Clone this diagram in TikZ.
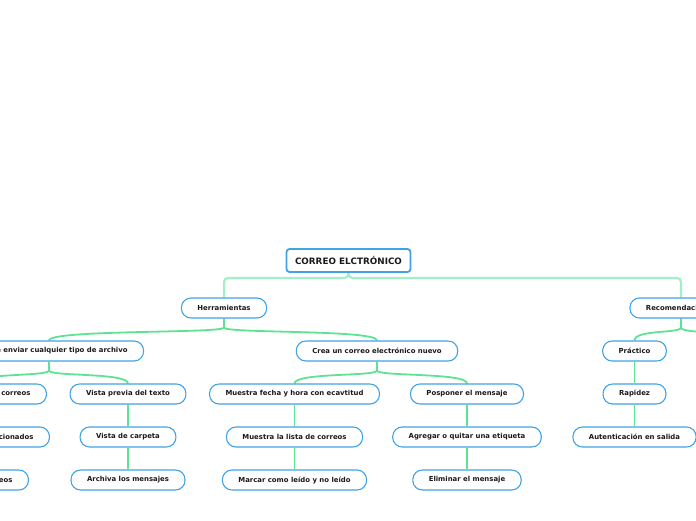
\documentclass[tikz,border=0pt]{standalone}
\usepackage{fontspec}
\setmainfont{DejaVu Sans}
\usetikzlibrary{backgrounds}
\definecolor{nodeblue}{HTML}{3FA3E6}
\definecolor{conngreen}{HTML}{5EE393}
\definecolor{rootgreen}{HTML}{A3F0C6}
\definecolor{txt}{HTML}{1A1A1A}
\tikzset{
  topic/.style={draw=nodeblue, line width=1.1pt, rounded corners=9.5pt, fill=white,
    minimum height=20pt, inner xsep=16pt, inner ysep=0pt, text=txt,
    font=\fontsize{6.9}{8}\selectfont\bfseries},
  roottopic/.style={draw=nodeblue, line width=1.8pt, rounded corners=3pt, fill=white,
    minimum height=23pt, inner xsep=8.5pt, inner ysep=0pt, text=txt,
    font=\fontsize{8.8}{10}\selectfont\bfseries},
  conn/.style={draw=conngreen, line width=1.8pt},
  rootconn/.style={draw=rootgreen, line width=2.2pt, rounded corners=4pt},
}
\begin{document}
\begin{tikzpicture}[x=1pt,y=-1pt]
\useasboundingbox (0,0) rectangle (696,520);

% nodes
\node[roottopic] (root) at (348.5,260.5) {CORREO ELCTRÓNICO};
\node[topic] (herr) at (224,308) {Herramientas};
\node[topic] (reco) at (681,308) {Recomendaciones};

\node[topic] (perm) at (49,351) {Permite enviar cualquier tipo de archivo};
\node[topic] (crea) at (377,351) {Crea un correo electrónico nuevo};

\node[topic, anchor=east] (pc1) at (47,394) {Organizar y clasificar correos};
\node[topic, anchor=east] (pc2) at (50,437) {Mover los correos seleccionados};
\node[topic, anchor=east] (pc3) at (29,480) {Destacar los correos};

\node[topic] (vp1) at (128,394) {Vista previa del texto};
\node[topic] (vp2) at (128,437) {Vista de carpeta};
\node[topic] (vp3) at (128,480) {Archiva los mensajes};

\node[topic] (mf1) at (294.5,394) {Muestra fecha y hora con ecavtitud};
\node[topic] (mf2) at (294.5,437) {Muestra la lista de correos};
\node[topic] (mf3) at (294.5,480) {Marcar como leído y no leído};

\node[topic] (po1) at (467,394) {Posponer el mensaje};
\node[topic] (po2) at (467,437) {Agregar o quitar una etiqueta};
\node[topic] (po3) at (467,480) {Eliminar el mensaje};

\node[topic] (pr1) at (634.5,351) {Práctico};
\node[topic] (pr2) at (634.5,394) {Rapidez};
\node[topic] (pr3) at (634.5,437) {Autenticación en salida};

\coordinate (recoB) at (728,341);
\coordinate (pcx1) at (-30,384);
\coordinate (pcx1b) at (-30,404);
\coordinate (pcx2) at (-30,427);
\coordinate (pcx2b) at (-30,447);
\coordinate (pcx3) at (-30,470);

% connectors
\begin{scope}[on background layer]
\draw[rootconn] (root.south) -- ++(0,5) -| (herr.north);
\draw[rootconn] (root.south) -- ++(0,5) -| (reco.north);

\foreach \p/\c in {herr/perm, herr/crea, perm/vp1, crea/mf1, crea/po1, reco/pr1}{
  \draw[conn] (\p.south) -- ++(0,9) .. controls +(0,6) and +(0,-11) .. (\c.north);
}
\draw[conn] (perm.south) -- ++(0,9) .. controls +(0,6) and +(0,-11) .. (pcx1);
\draw[conn] (reco.south) -- ++(0,9) .. controls +(0,6) and +(0,-11) .. (recoB);

\draw[conn] (pcx1b) -- (pcx2);
\draw[conn] (pcx2b) -- (pcx3);
\draw[conn] (vp1) -- (vp2);
\draw[conn] (vp2) -- (vp3);
\draw[conn] (mf1) -- (mf2);
\draw[conn] (mf2) -- (mf3);
\draw[conn] (po1) -- (po2);
\draw[conn] (po2) -- (po3);
\draw[conn] (pr1) -- (pr2);
\draw[conn] (pr2) -- (pr3);
\end{scope}
\end{tikzpicture}
\end{document}
